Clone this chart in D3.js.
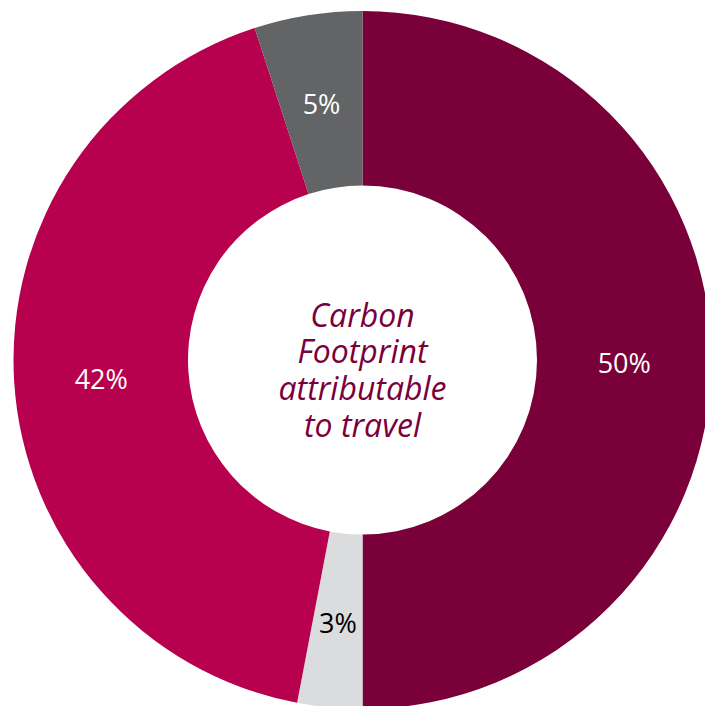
<!DOCTYPE html>
<html>
<head>
<meta charset="utf-8">
<script src="https://cdn.jsdelivr.net/npm/d3@7"></script>
<style>
  html, body { margin: 0; padding: 0; background: #ffffff; }
  svg { display: block; }
</style>
</head>
<body>
<svg id="chart" width="705" height="706"></svg>
<script>
// Shares of the carbon footprint, clockwise from twelve o'clock
const categories = ["Travel A", "Travel B", "Travel C", "Travel D"];
const values = [50, 3, 42, 5];
const labels = ["50%", "3%", "42%", "5%"];
const sliceColors = ["#7a0039", "#dbdcdd", "#b7004e", "#636466"];
const labelColors = ["#ffffff", "#000000", "#ffffff", "#ffffff"];
const centerLines = ["Carbon", "Footprint", "attributable", "to travel"];

const svg = d3.select("#chart");
const cx = 362.5, cy = 360;
const outerR = 349, innerR = 174.5;

const g = svg.append("g").attr("transform", `translate(${cx},${cy})`);

const pie = d3.pie().sort(null).value(d => d.value);
const arc = d3.arc().innerRadius(innerR).outerRadius(outerR);

const data = categories.map((c, i) => ({
  name: c, value: values[i], label: labels[i],
  color: sliceColors[i], textColor: labelColors[i]
}));

const arcs = pie(data);

g.selectAll("path.slice")
  .data(arcs)
  .join("path")
  .attr("class", "slice")
  .attr("d", arc)
  .attr("fill", d => d.data.color);

g.selectAll("text.value")
  .data(arcs)
  .join("text")
  .attr("class", "value")
  .attr("transform", d => `translate(${arc.centroid(d)})`)
  .attr("dy", 2)
  .attr("text-anchor", "middle")
  .attr("dominant-baseline", "central")
  .attr("font-family", "'Open Sans', sans-serif")
  .attr("font-size", 27)
  .attr("fill", d => d.data.textColor)
  .text(d => d.data.label);

// Centre caption
const lineH = 36.7;
const centerText = g.append("text")
  .attr("text-anchor", "middle")
  .attr("font-family", "'Open Sans', sans-serif")
  .attr("font-style", "italic")
  .attr("font-size", 32)
  .attr("fill", "#7a0039");

centerLines.forEach((t, i) => {
  centerText.append("tspan")
    .attr("x", 0)
    .attr("y", -33.3 + i * lineH)
    .text(t);
});
</script>
</body>
</html>
